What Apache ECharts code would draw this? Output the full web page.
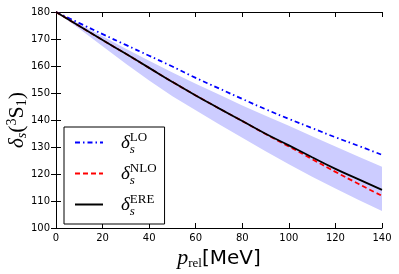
<!DOCTYPE html>
<html><head><meta charset="utf-8">
<script src="https://cdn.jsdelivr.net/npm/echarts@6/dist/echarts.min.js"></script>
<style>html,body{margin:0;padding:0;background:#fff}#c{width:399px;height:274px}</style>
</head><body><div id="c"></div>
<script>
const p = [0,10,20,30,40,50,60,70,80,90,100,110,120,130,140];
const lo  = [180,175.9,171.8,167.8,163.8,159.8,155.6,151.7,147.8,144.0,140.4,137.0,133.6,130.4,127.1];
const nlo = [180,174.8,169.6,164.5,159.3,154.1,149.1,144.3,139.6,134.8,130.2,125.5,120.8,116.3,111.9];
const ere = [180,174.8,169.6,164.5,159.3,154.1,149.1,144.3,139.6,134.9,130.6,126.2,121.9,118.0,114.1];
const bandUpper = [180,175.6,171.0,166.4,161.9,157.6,153.4,149.4,145.4,141.6,137.9,134.0,130.2,126.4,122.7];
const bandLower = [180,173.8,167.3,160.8,154.6,148.8,143.6,138.4,133.4,128.4,123.6,119.0,114.6,110.4,106.3];
const xTicks = [0,20,40,60,80,100,120,140];
const yTicks = [100,110,120,130,140,150,160,170,180];

const pair = (xs, ys) => xs.map((x,i)=>[x, ys[i]]);
const serif = 'Liberation Serif';
const sans = 'DejaVu Sans';
const legRich = {
  d:{fontFamily:serif,fontStyle:'italic',fontSize:19,color:'#000',lineHeight:28,verticalAlign:'middle'},
  s:{fontFamily:serif,fontStyle:'italic',fontSize:13,color:'#000',width:0,padding:[14,0,0,0]},
  u:{fontFamily:serif,fontSize:13,color:'#000',padding:[0,0,10,0]}
};
const chart = echarts.init(document.getElementById('c'), null, {renderer:'canvas'});
chart.setOption({
  animation:false,
  grid:{left:56,right:17,top:12,bottom:46,outerBoundsMode:'none',containLabel:false},
  xAxis:[
    {type:'value',min:0,max:140,interval:20,position:'bottom',
      axisLine:{lineStyle:{color:'#000',width:1}},splitLine:{show:false},
      axisLabel:{color:'#000',fontFamily:sans,fontSize:10,margin:5,customValues:xTicks},
      axisTick:{inside:true,length:5,lineStyle:{color:'#000'},customValues:xTicks},
      name:'{p|p}{r|rel}{m|[MeV]}',nameLocation:'middle',nameGap:19,nameMoveOverlap:false,
      nameTextStyle:{rich:{
        p:{fontFamily:serif,fontStyle:'italic',fontSize:22,color:'#000'},
        r:{fontFamily:serif,fontSize:13,color:'#000',padding:[10,0,0,0]},
        m:{fontFamily:sans,fontSize:20,color:'#000'}
      }}},
    {type:'value',min:0,max:140,interval:20,position:'top',
      axisLine:{lineStyle:{color:'#000'}},axisLabel:{show:false},
      axisTick:{inside:true,length:5,lineStyle:{color:'#000'}},splitLine:{show:false}}
  ],
  yAxis:[
    {type:'value',min:100,max:180,interval:10,position:'left',
      axisLine:{lineStyle:{color:'#000'}},
      axisTick:{inside:true,length:5,lineStyle:{color:'#000'},customValues:yTicks},
      axisLabel:{color:'#000',fontFamily:sans,fontSize:10,margin:6,customValues:yTicks},
      splitLine:{show:false},
      name:'{d|δ}{s|s}{b|(}{u|3}{S|S}{l|1}{b|)}',nameLocation:'middle',nameGap:27,nameMoveOverlap:false,
      nameTextStyle:{rich:{
        d:{fontFamily:serif,fontStyle:'italic',fontSize:21,color:'#000'},
        s:{fontFamily:serif,fontStyle:'italic',fontSize:14,color:'#000',padding:[10,0,0,0]},
        b:{fontFamily:serif,fontSize:22,color:'#000'},
        u:{fontFamily:serif,fontSize:14,color:'#000',padding:[0,0,10,0]},
        S:{fontFamily:serif,fontSize:22,color:'#000'},
        l:{fontFamily:serif,fontSize:14,color:'#000',padding:[10,0,0,0]}
      }}},
    {type:'value',min:100,max:180,interval:10,position:'right',
      axisLine:{lineStyle:{color:'#000'}},axisLabel:{show:false},
      axisTick:{inside:true,length:5,lineStyle:{color:'#000'}},splitLine:{show:false}}
  ],
  legend:{
    orient:'vertical',left:64,top:127,
    padding:[4,8,6,10],itemGap:6,itemWidth:28,itemHeight:14,
    borderColor:'#000',borderWidth:1,backgroundColor:'#fff',
    itemStyle:{opacity:0},
    data:['LO','NLO','ERE'],
    formatter:n=>'{d|δ}{s|s}{u|'+n+'}',
    textStyle:{rich:legRich,padding:[0,0,0,13]}
  },
  series:[
    {name:'band',type:'custom',silent:true,z:1,
      data:p.map((x,i)=>[x,bandLower[i],bandUpper[i]]),
      renderItem:function(params, api){
        if (params.dataIndex !== 0) return null;
        const n = p.length, pts = [];
        for (let i=0;i<n;i++) pts.push(api.coord([p[i], bandUpper[i]]));
        for (let i=n-1;i>=0;i--) pts.push(api.coord([p[i], bandLower[i]]));
        return {type:'polygon',shape:{points:pts},style:{fill:'#ccccff',stroke:null}};
      }},
    {name:'LO',type:'line',data:pair(p,lo),symbol:'none',smooth:true,color:'#0000ff',
      lineStyle:{color:'#0000ff',width:1.8,type:[5,3,1.5,3]},z:3},
    {name:'NLO',type:'line',data:pair(p,nlo),symbol:'none',smooth:true,color:'#ff0000',
      lineStyle:{color:'#ff0000',width:1.8,type:[5,3]},z:3},
    {name:'ERE',type:'line',data:pair(p,ere),symbol:'none',smooth:true,color:'#000',
      lineStyle:{color:'#000',width:1.8},z:4}
  ]
});
</script></body></html>
